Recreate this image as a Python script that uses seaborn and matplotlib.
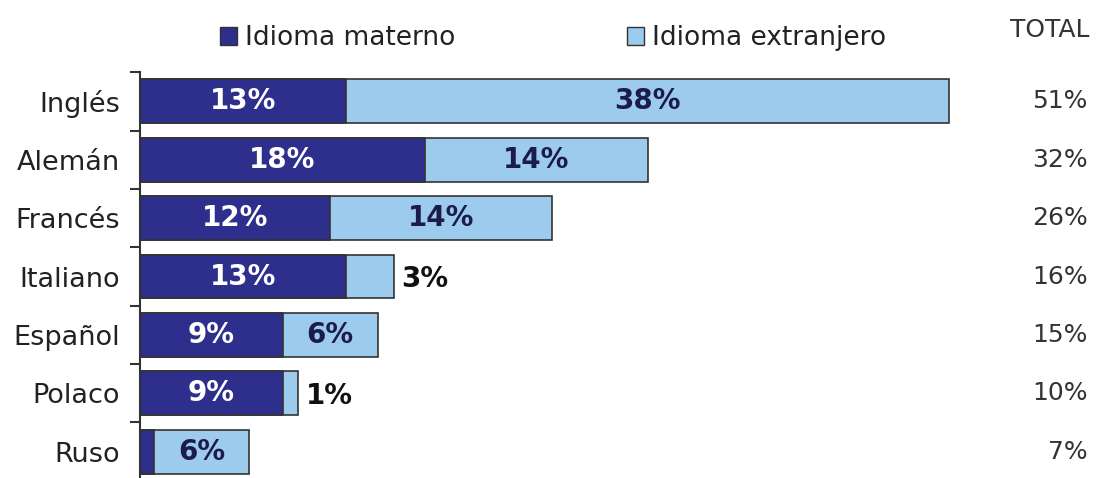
import numpy as np
import pandas as pd
import matplotlib.pyplot as plt
import seaborn as sns
from matplotlib.patches import Patch
from matplotlib.ticker import FixedLocator

sns.set_theme(style="white")
plt.rcParams['font.family'] = ['DejaVu Sans']

# datos
idiomas = ['Inglés', 'Alemán', 'Francés', 'Italiano', 'Español', 'Polaco', 'Ruso']
materno = [13, 18, 12, 13, 9, 9, 0.9]
extranjero = [38, 14, 14, 3, 6, 1, 6]
total = [51, 32, 26, 16, 15, 10, 7]

c_materno = '#2e2e8c'
c_extranjero = '#9dcbee'

df = pd.DataFrame({'idioma': idiomas, 'materno': materno, 'extranjero': extranjero})
df['suma'] = df['materno'] + df['extranjero']

fig = plt.figure(figsize=(11, 4.78), dpi=100)
ax = fig.add_axes([0.127, -0.006, 0.782, 0.855])

# barra completa (extranjero) debajo, materno encima
sns.barplot(data=df, x='suma', y='idioma', orient='h', color=c_extranjero,
            width=0.75, edgecolor='#333333', linewidth=1.2, saturation=1, ax=ax)
sns.barplot(data=df, x='materno', y='idioma', orient='h', color=c_materno,
            width=0.75, edgecolor='#333333', linewidth=1.2, saturation=1, ax=ax)

ax.set_xlim(0, 54.2)
ax.set_ylim(6.5, -0.5)
ax.set_xlabel('')
ax.set_ylabel('')
ax.set_xticks([])

for s in ['top', 'right', 'bottom']:
    ax.spines[s].set_visible(False)
ax.spines['left'].set_color('#333333')
ax.spines['left'].set_linewidth(1.5)

ax.tick_params(axis='y', which='major', length=0, pad=14, labelsize=19.5, labelcolor='#222222')
ax.yaxis.set_minor_locator(FixedLocator(np.arange(-0.5, 7, 1)))
ax.tick_params(axis='y', which='minor', left=True, length=7, width=1.5, color='#333333')

# etiquetas de valores
for i, row in df.iterrows():
    m, e = row['materno'], row['extranjero']
    if m >= 3:
        ax.text(m / 2, i, f'{m:.0f}%', ha='center', va='center', color='white',
                fontsize=20, fontweight='bold')
    if e >= 5:
        ax.text(m + e / 2, i, f'{e:.0f}%', ha='center', va='center', color='#1c1c48',
                fontsize=20, fontweight='bold')
    else:
        ax.text(m + e + 0.5, i + 0.05, f'{e:.0f}%', ha='left', va='center', color='#111111',
                fontsize=20, fontweight='bold')

# columna de totales (a la derecha, fuera del eje)
x_total = 1.0 + (1088 - 1000) / (0.782 * 1100)
for i, t in enumerate(total):
    ax.text(x_total, i, f'{t}%', transform=ax.get_yaxis_transform(), ha='right', va='center',
            fontsize=18, color='#333333', clip_on=False)

fig.text(1090 / 1100, 1 - 30 / 478, 'TOTAL', ha='right', va='center', fontsize=18, color='#333333')

handles = [Patch(facecolor=c_materno, edgecolor='#333333', label='Idioma materno'),
           Patch(facecolor=c_extranjero, edgecolor='#333333', label='Idioma extranjero')]
fig.legend(handles=handles, loc='center left', bbox_to_anchor=(196 / 1100, 1 - 38 / 478),
           ncol=2, frameon=False, fontsize=19, handlelength=0.65, handleheight=0.65,
           handletextpad=0.3, columnspacing=6.5, labelcolor='#222222')

fig.savefig('out.png', dpi=100)
